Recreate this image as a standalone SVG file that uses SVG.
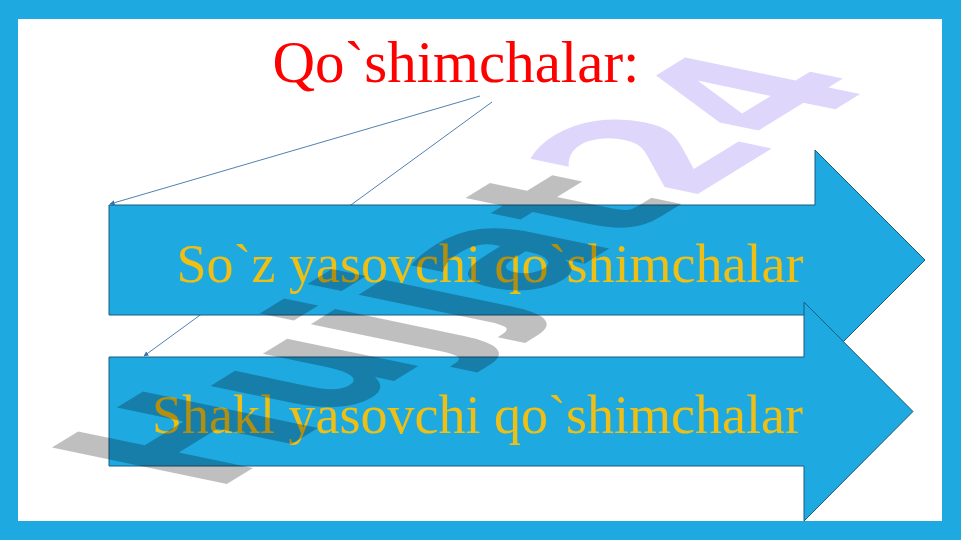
<svg xmlns="http://www.w3.org/2000/svg" width="961" height="540" viewBox="0 0 961 540">
<style>
.arrow{fill:#1EA9E1;stroke:#1A5A80;stroke-width:1}
.lbl{font-family:"Liberation Serif","Times New Roman",serif;font-size:54px;fill:#EFBF14;text-anchor:middle}
.title{font-family:"Liberation Serif","Times New Roman",serif;font-size:59px;fill:#FF0000;text-anchor:middle}
.conn{stroke:#3B73A8;stroke-width:0.9;fill:none;marker-end:url(#ah)}
.wm{font-family:"DejaVu Sans",sans-serif;font-weight:bold;font-size:100px}
</style>
<defs>
<marker id="ah" viewBox="0 0 10 10" refX="9" refY="5" markerWidth="5" markerHeight="5" orient="auto" markerUnits="userSpaceOnUse">
<path d="M0,0 L10,5 L0,10 z" fill="#3B73A8"/>
</marker>
</defs>
<rect x="0" y="0" width="961" height="540" fill="#1EA9E1"/>
<rect x="18" y="19" width="924" height="502" fill="#FFFFFF"/>
<g id="title">
<text class="title" x="456" y="82">Qo`shimchalar:</text>
</g>
<g id="connectors">
<line class="conn" x1="480" y1="96" x2="110" y2="204"/>
<line class="conn" x1="492" y1="102" x2="144" y2="356"/>
</g>
<g id="node-soz">
<polygon class="arrow" points="109,205 815,205 815,150 925,260 815,370 815,315 109,315"/>
<text class="lbl" x="490" y="282">So`z yasovchi qo`shimchalar</text>
</g>
<g id="node-shakl">
<polygon class="arrow" points="109,357 804,357 804,302 913,411.5 804,521 804,466 109,466"/>
<text class="lbl" x="477.5" y="433">Shakl yasovchi qo`shimchalar</text>
</g>
<g id="watermark">
<text class="wm" transform="matrix(1.396 -0.86 2.4 0.5 214 492)"><tspan fill="#000000" fill-opacity="0.25">Hujjat</tspan><tspan fill="#7A5CF0" fill-opacity="0.25">24</tspan></text>
</g>
</svg>
